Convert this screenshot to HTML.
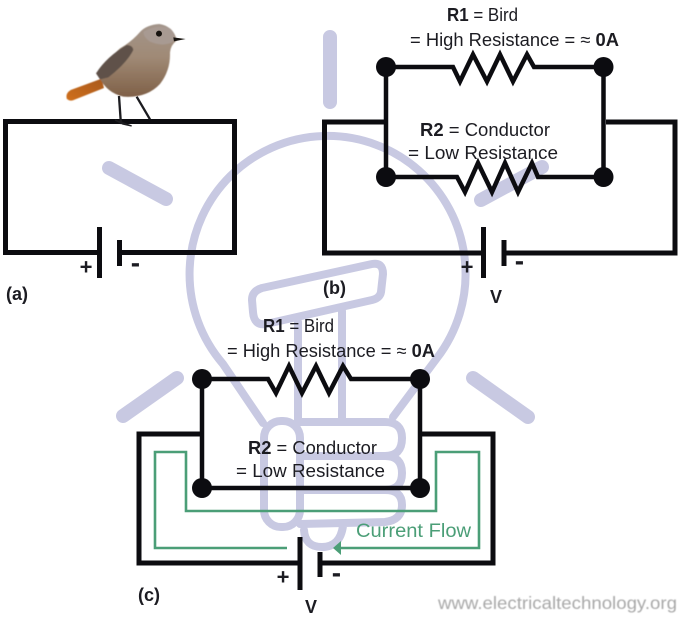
<!DOCTYPE html>
<html><head><meta charset="utf-8"><style>
html,body{margin:0;padding:0;background:#fff}
svg{display:block}
text{font-family:"Liberation Sans",sans-serif;fill:#1c1c22}
</style></head><body>
<svg width="682" height="619" viewBox="0 0 682 619" xmlns="http://www.w3.org/2000/svg">
<defs>
<linearGradient id="b" x1="0" y1="0" x2="0" y2="1"><stop offset="0" stop-color="#a3958b"/><stop offset=".45" stop-color="#a08a76"/><stop offset="1" stop-color="#7f6047"/></linearGradient>
<linearGradient id="t" x1="0" y1="1" x2="1" y2="0"><stop offset="0" stop-color="#d0701f"/><stop offset="1" stop-color="#a8591f"/></linearGradient>
<filter id="s"><feGaussianBlur stdDeviation="1.800"/></filter>
<filter id="w"><feGaussianBlur stdDeviation="0.450"/></filter>
</defs>
<g fill="none" stroke="#c8c9e2" stroke-linecap="round" stroke-linejoin="round">
<g stroke-width="14">
<path d="M330 37V102M109 168L166 199M481 200L542 167M123 416L177 378M473 378L528 417"/>
</g>
<g stroke-width="8">
<path d="M263 423L223 364A138 138 0 1 1 437 358L393 417"/>
<path d="M262 288L372 264Q383 262 383 274L381 292Q380 298 372 300L266 324Q254 326 253 312L252 300Q252 291 262 288Z"/>
<path d="M298 322V420M342 311V420"/>
<rect x="264" y="421" width="36" height="106" rx="17"/>
<path d="M300 422H385Q402 422 402 438Q402 456 385 456H300M385 456Q402 456 402 473Q402 490 385 490H300M385 490Q402 490 402 505Q402 520 385 522L300 524M304 530Q305 547 322 547Q340 547 343 526"/>
</g>
</g>

<g fill="none" stroke="#0c0c10" stroke-width="5">
<!-- a -->
<path d="M98 252.500H5.500V121.500H234.500V252.500H120"/>
<path d="M99.500 227V278M119.500 240V266" />
<!-- b -->
<path d="M384 122H324.500V253H483M505 253H675V122H606"/>
<path d="M483.500 227V278"/>
<path d="M504 240V266"/>
<path d="M386 67H453L460 81.500L473 54.500L487 81.500L500 54.500L513 81.500L527 54.500L534 67H603.500V177H538L532 163L518 192L505 163L492 192L478 163L465 192L457 177H386Z" stroke-width="4.500" stroke-linejoin="miter"/>
<!-- c -->
<path d="M202 434H139V563H300M320 563H493V434H420"/>
<path d="M300 537V590M320 552V577"/>
<path d="M202 379H268L276 393L289 366L302 393L316 366L329 393L343 366L351 379H420V488H202Z" stroke-width="4.500"/>
</g>
<g fill="#0c0c10">
<circle cx="386" cy="67" r="10"/><circle cx="603.500" cy="67" r="10"/><circle cx="386" cy="177" r="10"/><circle cx="603.500" cy="177" r="10"/>
<circle cx="202" cy="379" r="10"/><circle cx="420" cy="379" r="10"/><circle cx="202" cy="488" r="10"/><circle cx="420" cy="488" r="10"/>
</g>

<!-- green current path -->
<path d="M287 548H155V452H186V511H436V452H479V548H338" fill="none" stroke="#4b9e77" stroke-width="2.600"/>
<path d="M333 548L341 541V555Z" fill="#4b9e77"/>

<!-- labels -->
<g font-size="18.500">
<text x="447" y="21" textLength="71" lengthAdjust="spacingAndGlyphs"><tspan font-weight="700">R1</tspan> = Bird</text>
<text x="410" y="46" textLength="209" lengthAdjust="spacingAndGlyphs">= High Resistance = ≈ <tspan font-weight="700">0A</tspan></text>
<text x="420" y="136" textLength="130" lengthAdjust="spacingAndGlyphs"><tspan font-weight="700">R2</tspan> = Conductor</text>
<text x="408" y="159" textLength="150" lengthAdjust="spacingAndGlyphs">= Low Resistance</text>
<text x="263" y="332" textLength="71" lengthAdjust="spacingAndGlyphs"><tspan font-weight="700">R1</tspan> = Bird</text>
<text x="227" y="357" textLength="208" lengthAdjust="spacingAndGlyphs">= High Resistance = ≈ <tspan font-weight="700">0A</tspan></text>
<text x="248" y="454" textLength="129" lengthAdjust="spacingAndGlyphs"><tspan font-weight="700">R2</tspan> = Conductor</text>
<text x="236" y="477" textLength="149" lengthAdjust="spacingAndGlyphs">= Low Resistance</text>
<text x="356" y="537" textLength="115" lengthAdjust="spacingAndGlyphs" font-size="19" style="fill:#4b9e77">Current Flow</text>
</g>
<g font-size="18" font-weight="700">
<text x="6" y="300">(a)</text>
<text x="323" y="294">(b)</text>
<text x="138" y="601">(c)</text>
<text x="490" y="303">V</text>
<text x="305" y="613">V</text>
</g>
<g font-size="22" font-weight="700">
<text x="79.600" y="274.500">+</text>
<text x="460.600" y="274.500">+</text>
<text x="276.600" y="584.500">+</text>
</g>
<g font-size="28" font-weight="700">
<text x="130.700" y="272">-</text>
<text x="514.700" y="270">-</text>
<text x="331.700" y="582">-</text>
</g>
<text x="438" y="609" font-size="17.500" textLength="239" lengthAdjust="spacingAndGlyphs" filter="url(#w)" style="fill:#a8a8a8">www.electricaltechnology.org</text>

<!-- bird -->
<g transform="scale(.3333)">
<path d="M357 288L362 360L365 372M410 290L450 358" fill="none" stroke="#1c1c20" stroke-width="7"/>
<path d="M345 360L395 378L368 372Z" fill="#1c1c20" stroke="#1c1c20" stroke-width="4"/>
<g filter="url(#s)">
<path d="M305 236L212 270Q196 280 200 296Q210 306 224 299L312 264Z" fill="url(#t)"/>
<path d="M527 110Q515 78 478 72Q440 74 420 96Q395 125 360 145Q315 185 298 232Q320 278 370 290Q440 295 480 252Q512 210 510 158Q512 135 530 122Z" fill="url(#b)"/>
<path d="M288 220Q320 170 380 135Q398 135 400 150Q380 190 325 232L300 238Z" fill="#5f5148"/>
<path d="M430 95Q470 72 510 85Q528 100 520 125Q490 142 450 125Q430 112 430 95Z" fill="#a89a92"/>
</g>
<circle cx="477" cy="101" r="9" fill="#17130f"/>
<path d="M520 112L557 117L522 124Z" fill="#17130f"/>
</g>
</svg>
</body></html>
